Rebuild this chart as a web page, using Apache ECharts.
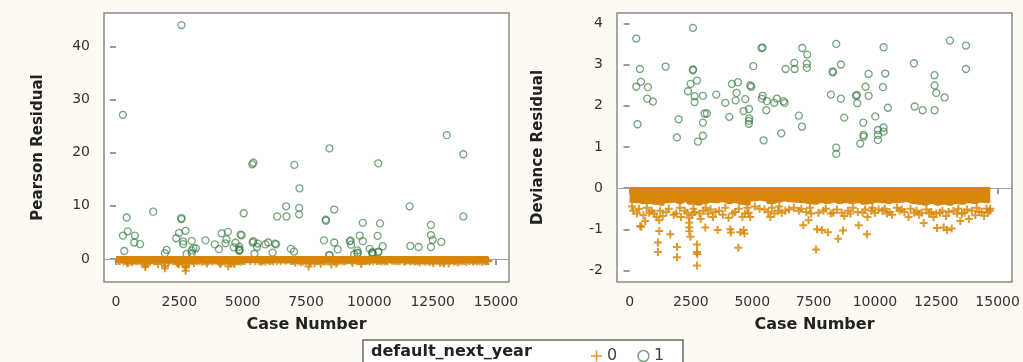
<!DOCTYPE html>
<html>
<head>
<meta charset="utf-8" />
<title>Residuals by case number</title>
<script src="https://cdn.jsdelivr.net/npm/echarts@6/dist/echarts.min.js"></script>
<style>
  html, body { margin: 0; padding: 0; background: #fcfaf3; }
  #chart { width: 1023px; height: 362px; }
</style>
</head>
<body>
<div id="chart"></div>
<script>
// tick labels
var caseTicks = [0, 2500, 5000, 7500, 10000, 12500, 15000];
var pearsonTicks = [0, 10, 20, 30, 40];
var devianceTicks = [-2, -1, 0, 1, 2, 3, 4];

// default_next_year = 1 (circles)
var case1 = [272, 2582, 421, 462, 272, 747, 720, 951, 326, 1467, 1997, 1929, 2582, 2582, 2486, 2378, 2745, 2650, 2650, 2989,
  3057, 3152, 2989, 2989, 2785, 3533, 3900, 4063, 4171, 4416, 4361, 4321, 4715, 4647, 4864, 4918, 4959, 4878, 4864, 4864,
  5041, 5380, 5421, 5421, 5394, 5598, 5571, 5462, 6005, 5897, 6277, 6318, 6182, 6359, 6712, 6726, 7038, 7242, 7228, 7228,
  6902, 7024, 8424, 8275, 8288, 8614, 8207, 8614, 8750, 8424, 8424, 9266, 9226, 9280, 9619, 9742, 9742, 9524, 9538, 9538,
  9402, 10014, 10122, 10122, 10122, 10353, 10353, 10326, 10353, 10421, 10530, 11590, 11617, 11943, 12432, 12432, 12500, 12840, 12432, 13057,
  13709, 13709];
var pearson1 = [27.1, 44.0, 7.8, 5.2, 4.4, 4.4, 3.1, 2.8, 1.5, 8.9, 1.7, 1.1, 7.7, 7.5, 4.9, 3.9, 5.3, 3.3, 2.8, 3.4,
  2.0, 2.0, 1.6, 1.1, 0.95, 3.5, 2.75, 1.85, 4.85, 5.1, 3.7, 2.95, 3.05, 2.2, 2.3, 4.6, 4.45, 1.78, 1.66, 1.55,
  8.6, 17.8, 18.1, 3.35, 3.1, 2.9, 2.25, 0.98, 3.1, 2.75, 2.9, 2.75, 1.2, 8.0, 9.9, 8.0, 17.7, 13.3, 9.6, 8.4,
  1.9, 1.4, 20.8, 7.4, 7.2, 9.3, 3.5, 3.1, 1.8, 0.78, 0.64, 3.45, 3.35, 2.7, 4.4, 3.35, 6.8, 1.6, 1.15, 1.1,
  0.89, 1.9, 1.3, 1.15, 0.99, 1.4, 1.25, 4.35, 18.0, 6.7, 2.4, 9.9, 2.45, 2.25, 6.4, 4.5, 3.6, 3.2, 2.25, 23.3,
  19.7, 8.0];
var deviance1 = [3.63, 3.89, 2.89, 2.58, 2.46, 2.45, 2.17, 2.10, 1.55, 2.95, 1.67, 1.23, 2.88, 2.86, 2.53, 2.35, 2.61, 2.23, 2.09, 2.24,
  1.81, 1.81, 1.59, 1.27, 1.13, 2.27, 2.07, 1.73, 2.53, 2.57, 2.31, 2.13, 2.16, 1.87, 1.92, 2.49, 2.46, 1.69, 1.63, 1.56,
  2.96, 3.40, 3.41, 2.24, 2.17, 2.11, 1.89, 1.16, 2.17, 2.07, 2.11, 2.07, 1.33, 2.89, 3.04, 2.89, 3.40, 3.24, 3.02, 2.92,
  1.76, 1.49, 3.50, 2.83, 2.81, 3.00, 2.27, 2.17, 1.71, 0.98, 0.83, 2.26, 2.24, 2.06, 2.46, 2.24, 2.77, 1.59, 1.29, 1.25,
  1.08, 1.74, 1.41, 1.29, 1.17, 1.47, 1.37, 2.45, 3.42, 2.78, 1.95, 3.03, 1.98, 1.89, 2.74, 2.49, 2.31, 2.20, 1.89, 3.58,
  3.46, 2.89];

// default_next_year = 0 (pluses) that show below the solid band
var case0 = [300, 436, 475, 560, 638, 800, 1100, 1157, 1157, 1209, 1211, 1350, 1659, 1900, 1932, 1932, 2100, 2434, 2434, 2434,
  2434, 2480, 2550, 2747, 2747, 2760, 2747, 2900, 3086, 3200, 3400, 3589, 3800, 4035, 4105, 4130, 4432, 4511, 4650, 4680,
  4700, 4918, 5734, 5900, 6200, 7080, 7296, 7400, 7600, 7640, 7840, 8080, 8500, 8698, 8750, 9000, 9336, 9676, 9700, 10000,
  10490, 10700, 11200, 11372, 11985, 12392, 12530, 12799, 12939, 13130, 13342, 13481, 13830, 14089, 14450, 14701,
  150, 900, 1500, 2250, 2650, 3000, 3300, 3650, 4300, 4850, 5500, 6050, 6500, 6900, 7200, 7900, 8300, 8900, 9500, 9850,
  10300, 11000, 11600, 11800, 12200, 12650, 13000, 13650, 14250, 14600,
  100, 380, 700, 1000, 1250, 1600, 1800, 2050, 2350, 2600, 2850, 3100, 3500, 3900, 4200, 4450, 4600, 4800, 5100, 5300,
  5650, 5800, 6100, 6350, 6700, 7000, 7350, 7700, 8000, 8200, 8450, 8650, 9100, 9300, 9600, 9900, 10150, 10400, 10600, 10900,
  11100, 11450, 11700, 11900, 12100, 12300, 12500, 12750, 12900, 13200, 13400, 13550, 13750, 13950, 14150, 14350, 14550, 14680];
var deviance0 = [-0.62, -0.92, -0.94, -0.66, -0.80, -0.60, -0.70, -1.32, -1.55, -0.78, -1.04, -0.68, -1.12, -0.62, -1.43, -1.68, -0.70, -0.72, -0.84, -0.96,
  -1.05, -1.18, -0.65, -1.37, -1.55, -1.60, -1.88, -0.75, -0.96, -0.62, -0.70, -1.02, -0.65, -0.72, -1.00, -1.08, -1.45, -1.07, -1.02, -1.10,
  -0.62, -0.70, -0.70, -0.62, -0.60, -0.90, -0.78, -0.62, -1.49, -1.00, -1.02, -1.07, -1.23, -1.03, -0.68, -0.62, -0.90, -1.12, -0.70, -0.60,
  -0.62, -0.65, -0.58, -0.70, -0.85, -0.70, -0.97, -0.96, -1.02, -0.98, -0.62, -0.80, -0.75, -0.66, -0.67, -0.50,
  -0.55, -0.55, -0.58, -0.55, -0.58, -0.55, -0.52, -0.55, -0.58, -0.60, -0.52, -0.55, -0.52, -0.55, -0.58, -0.55, -0.60, -0.55, -0.60, -0.55,
  -0.55, -0.55, -0.60, -0.65, -0.62, -0.60, -0.58, -0.60, -0.58, -0.60,
  -0.45, -0.50, -0.48, -0.62, -0.55, -0.50, -0.65, -0.48, -0.60, -0.50, -0.62, -0.48, -0.58, -0.48, -0.62, -0.50, -0.70, -0.48, -0.45, -0.50,
  -0.58, -0.48, -0.45, -0.55, -0.48, -0.50, -0.48, -0.60, -0.50, -0.62, -0.52, -0.60, -0.48, -0.58, -0.52, -0.48, -0.52, -0.50, -0.58, -0.48,
  -0.52, -0.50, -0.55, -0.60, -0.52, -0.58, -0.62, -0.55, -0.68, -0.55, -0.50, -0.62, -0.52, -0.55, -0.48, -0.58, -0.50, -0.55];
var pearson0 = [-0.46, -0.73, -0.75, -0.49, -0.61, -0.44, -0.53, -1.18, -1.53, -0.60, -0.85, -0.51, -0.93, -0.46, -1.33, -1.76, -0.53, -0.54, -0.65, -0.77,
  -0.86, -1.00, -0.49, -1.25, -1.53, -1.61, -2.20, -0.57, -0.77, -0.46, -0.53, -0.83, -0.49, -0.54, -0.81, -0.89, -1.36, -0.88, -0.83, -0.91,
  -0.46, -0.53, -0.53, -0.46, -0.44, -0.71, -0.60, -0.46, -1.43, -0.81, -0.83, -0.88, -1.06, -0.84, -0.51, -0.46, -0.71, -0.93, -0.53, -0.44,
  -0.46, -0.49, -0.43, -0.53, -0.66, -0.53, -0.78, -0.77, -0.83, -0.79, -0.46, -0.61, -0.57, -0.49, -0.50, -0.37,
  -0.40, -0.40, -0.43, -0.40, -0.43, -0.40, -0.38, -0.40, -0.43, -0.44, -0.38, -0.40, -0.38, -0.40, -0.43, -0.40, -0.44, -0.40, -0.44, -0.40,
  -0.40, -0.40, -0.44, -0.49, -0.46, -0.44, -0.43, -0.44, -0.43, -0.44,
  -0.33, -0.37, -0.35, -0.46, -0.40, -0.37, -0.49, -0.35, -0.44, -0.37, -0.46, -0.35, -0.43, -0.35, -0.46, -0.37, -0.53, -0.35, -0.33, -0.37,
  -0.43, -0.35, -0.33, -0.40, -0.35, -0.37, -0.35, -0.44, -0.37, -0.46, -0.38, -0.44, -0.35, -0.43, -0.38, -0.35, -0.38, -0.37, -0.43, -0.35,
  -0.38, -0.37, -0.40, -0.44, -0.38, -0.43, -0.46, -0.40, -0.51, -0.40, -0.37, -0.46, -0.38, -0.40, -0.35, -0.43, -0.37, -0.40];

// the dense band of class 0 right under zero: depth of its solid part per 250 cases
var bandCase = [0, 250, 500, 750, 1000, 1250, 1500, 1750, 2000, 2250, 2500, 2750, 3000, 3250, 3500, 3750, 4000, 4250, 4500, 4750,
  5000, 5250, 5500, 5750, 6000, 6250, 6500, 6750, 7000, 7250, 7500, 7750, 8000, 8250, 8500, 8750, 9000, 9250, 9500, 9750,
  10000, 10250, 10500, 10750, 11000, 11250, 11500, 11750, 12000, 12250, 12500, 12750, 13000, 13250, 13500, 13750, 14000, 14250, 14500, 14700];
var bandDeviance = [-0.32, -0.33, -0.35, -0.35, -0.37, -0.39, -0.33, -0.32, -0.35, -0.31, -0.37, -0.39, -0.35, -0.32, -0.33, -0.31, -0.35, -0.33, -0.37, -0.39,
  -0.29, -0.27, -0.29, -0.35, -0.32, -0.29, -0.31, -0.32, -0.33, -0.35, -0.37, -0.33, -0.35, -0.32, -0.35, -0.33, -0.35, -0.33, -0.37, -0.35,
  -0.32, -0.33, -0.35, -0.33, -0.32, -0.31, -0.35, -0.37, -0.39, -0.35, -0.39, -0.37, -0.39, -0.35, -0.37, -0.33, -0.35, -0.32, -0.33, -0.32];
var bandPearson = [-0.21, -0.30, -0.33, -0.33, -0.35, -0.37, -0.30, -0.29, -0.33, -0.27, -0.35, -0.37, -0.33, -0.29, -0.30, -0.27, -0.33, -0.30, -0.35, -0.37,
  -0.25, -0.23, -0.26, -0.33, -0.29, -0.25, -0.27, -0.29, -0.30, -0.33, -0.35, -0.30, -0.33, -0.29, -0.33, -0.30, -0.33, -0.30, -0.35, -0.33,
  -0.29, -0.30, -0.33, -0.30, -0.29, -0.27, -0.33, -0.35, -0.37, -0.33, -0.37, -0.35, -0.37, -0.33, -0.35, -0.30, -0.33, -0.29, -0.30, -0.29];

var orange = '#d8870b';
var green = 'rgba(55,122,68,0.85)';
var plus = 'path://M3,0H5V3H8V5H5V8H3V5H0V3H3Z';
var thinPlus = 'path://M4.3,0H5.7V4.3H10V5.7H5.7V10H4.3V5.7H0V4.3H4.3Z';

function pairs(xs, ys) {
  return xs.map(function (x, i) { return [x, ys[i]]; });
}

var tickStyle = { show: true, length: 6, lineStyle: { color: '#7a7a72', width: 1.5 } };
var labelStyle = { color: '#333', fontSize: 14, fontFamily: 'DejaVu Sans', formatter: function (v) { return String(v); } };
var nameStyle = { color: '#222', fontSize: 15, fontWeight: 'bold', fontFamily: 'DejaVu Sans' };

function xAxis(idx, min, max) {
  return {
    type: 'value', gridIndex: idx, min: min, max: max,
    name: 'Case Number', nameLocation: 'middle', nameGap: 35,
    nameTextStyle: Object.assign({}, nameStyle, { fontSize: 16 }),
    axisLine: { show: false },
    axisTick: Object.assign({ customValues: caseTicks }, tickStyle),
    axisLabel: Object.assign({ customValues: caseTicks, margin: 13 }, labelStyle),
    splitLine: { show: false }
  };
}

function yAxis(idx, min, max, ticks, name, gap) {
  return {
    type: 'value', gridIndex: idx, min: min, max: max,
    name: name, nameLocation: 'middle', nameGap: gap, nameTextStyle: nameStyle,
    axisLine: { show: false },
    axisTick: Object.assign({ customValues: ticks }, tickStyle),
    axisLabel: Object.assign({ customValues: ticks, margin: 14 }, labelStyle),
    splitLine: { show: false }
  };
}

function panel(idx, bandVals, vals0, vals1, edgeW) {
  var first = bandCase[0], last = bandCase[bandCase.length - 1];
  return [
    { type: 'scatter', xAxisIndex: idx, yAxisIndex: idx, data: [], z: 1, silent: true,
      markLine: { silent: true, symbol: 'none', label: { show: false },
        lineStyle: { color: '#a0a0a0', width: 1, type: 'solid' }, data: [{ yAxis: 0 }] } },
    // solid band of overlapping pluses, drawn as a stepped area under zero
    { type: 'line', name: 'band', xAxisIndex: idx, yAxisIndex: idx, data: pairs(bandCase, bandVals),
      step: 'middle', symbol: 'none', z: 2, silent: true,
      lineStyle: { color: orange, width: edgeW },
      areaStyle: { color: orange, opacity: 1, origin: 0 },
      markLine: { silent: true, symbol: 'none', label: { show: false },
        lineStyle: { color: orange, width: edgeW, type: 'solid' },
        data: [[{ coord: [first, 0] }, { coord: [last, 0] }]] } },
    { type: 'scatter', name: '0', xAxisIndex: idx, yAxisIndex: idx, data: pairs(case0, vals0),
      symbol: plus, symbolSize: 8, z: 3, itemStyle: { color: orange, opacity: 0.85 } },
    { type: 'scatter', name: '1', xAxisIndex: idx, yAxisIndex: idx, data: pairs(case1, vals1),
      symbol: 'circle', symbolSize: 7, z: 4,
      itemStyle: { color: 'transparent', borderColor: green, borderWidth: 1.3 } }
  ];
}

var option = {
  backgroundColor: '#fcfaf3',
  animation: false,
  textStyle: { fontFamily: 'DejaVu Sans' },
  grid: [
    { left: 104, top: 13, width: 405, height: 269, show: true, backgroundColor: '#ffffff', borderColor: '#8c8c84', borderWidth: 1.5 },
    { left: 617, top: 13, width: 395, height: 269, show: true, backgroundColor: '#ffffff', borderColor: '#8c8c84', borderWidth: 1.5 }
  ],
  xAxis: [xAxis(0, -474, 15513), xAxis(1, -513, 15587)],
  yAxis: [
    yAxis(0, -4.33, 46.27, pearsonTicks, 'Pearson Residual', 58),
    yAxis(1, -2.28, 4.25, devianceTicks, 'Deviance Residual', 71)
  ],
  legend: {
    left: 586, top: 343, z: 5, itemGap: 20, itemWidth: 11, itemHeight: 11,
    textStyle: { color: '#444', fontSize: 16, fontFamily: 'DejaVu Sans' },
    data: [
      { name: '0', icon: thinPlus, itemStyle: { color: orange, borderWidth: 0 } },
      { name: '1', icon: 'circle', itemStyle: { color: 'transparent', borderColor: green, borderWidth: 1.5 } }
    ]
  },
  graphic: [
    { type: 'rect', z: 1, shape: { x: 363, y: 340, width: 320, height: 30 },
      style: { fill: '#ffffff', stroke: '#6a6a66', lineWidth: 1.5 } },
    { type: 'text', z: 2, x: 371, y: 352,
      style: { text: 'default_next_year', fill: '#222', font: 'bold 16px "DejaVu Sans"', verticalAlign: 'middle' } }
  ],
  series: panel(0, bandPearson, pearson0, pearson1, 6).concat(panel(1, bandDeviance, deviance0, deviance1, 3))
};

var myChart = echarts.init(document.getElementById('chart'));
myChart.setOption(option);
</script>
</body>
</html>
